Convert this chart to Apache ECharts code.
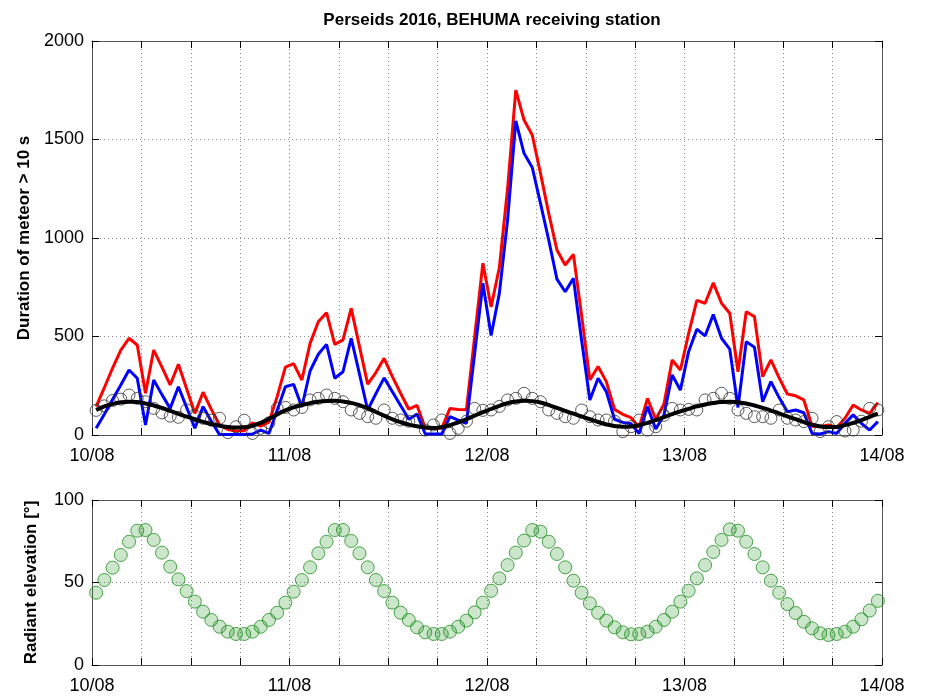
<!DOCTYPE html>
<html>
<head>
<meta charset="utf-8">
<script src="https://cdn.jsdelivr.net/npm/echarts@6/dist/echarts.min.js"></script>
<style>
  html, body { margin: 0; padding: 0; background: #fff; }
  #chart { width: 926px; height: 700px; }
</style>
</head>
<body>
<div id="chart"></div>
<script>
// x tick labels, one per day (hours 0, 24, 48, 72, 96)
const dayLabels = ['10/08', '11/08', '12/08', '13/08', '14/08']

// hourly values, 10/08 00:30 ... 13/08 23:30
const red = [
  144, 240, 340, 431, 491, 457, 212, 431, 345, 254, 359, 235, 110, 217, 130, 51, 28, 20, 22, 62, 45, 65, 195, 345,
  362, 279, 465, 575, 621, 460, 483, 643, 450, 258, 317, 389, 296, 212, 131, 150, 34, 34, 34, 135, 130, 128, 499, 872,
  650, 850, 1250, 1751, 1599, 1523, 1328, 1125, 939, 863, 917, 606, 280, 348, 271, 130, 105, 88, 40, 186, 80, 156, 381, 330,
  515, 683, 669, 772, 669, 618, 321, 626, 601, 296, 381, 290, 208, 199, 178, 45, 42, 51, 38, 85, 152, 127, 110, 164
]
const blue = [
  34, 105, 180, 254, 330, 288, 51, 279, 205, 135, 245, 140, 34, 144, 70, 2, 2, 2, 2, 5, 25, 8, 125, 245,
  257, 142, 325, 410, 460, 288, 321, 491, 310, 127, 210, 290, 220, 150, 80, 106, 5, 5, 5, 93, 75, 59, 415, 770,
  505, 719, 1091, 1595, 1430, 1358, 1176, 990, 791, 727, 795, 480, 178, 288, 220, 80, 64, 57, 8, 144, 30, 100, 305, 228,
  423, 537, 503, 612, 491, 436, 140, 474, 445, 169, 271, 190, 118, 127, 113, 8, 5, 17, 8, 59, 102, 59, 25, 68
]
// hollow black circles
const circles = [
  125, 148, 175, 182, 203, 186, 169, 135, 112, 96, 90, 127, 98, 85, 75, 85, 12, 42, 75, 8, 34, 62, 135, 140,
  127, 140, 178, 186, 203, 186, 169, 127, 110, 93, 85, 127, 85, 76, 70, 75, 25, 51, 76, 8, 34, 70, 135, 125,
  127, 145, 178, 186, 212, 186, 169, 127, 110, 93, 85, 127, 93, 76, 76, 70, 17, 42, 76, 25, 42, 100, 135, 127,
  130, 127, 178, 186, 212, 186, 127, 110, 93, 93, 85, 127, 85, 76, 68, 85, 17, 42, 68, 20, 25, 70, 135, 127
]
// thick black curve
const fit = [
  127, 145, 158, 166, 169, 167, 160, 150, 137, 122, 107, 93, 80, 67, 56, 47, 41, 38, 39, 47, 62, 82, 104, 125,
  140, 152, 162, 169, 173, 174, 170, 163, 152, 136, 117, 98, 80, 65, 53, 44, 38, 36, 40, 50, 64, 80, 98, 116,
  132, 148, 162, 170, 174, 172, 165, 152, 138, 122, 108, 94, 80, 66, 54, 46, 42, 43, 50, 62, 76, 91, 106, 120,
  133, 145, 155, 162, 167, 169, 166, 160, 150, 138, 124, 110, 95, 80, 65, 52, 44, 40, 41, 50, 62, 76, 92, 108
]
// radiant elevation (deg)
const elevation = [
  43.8, 51.5, 59, 66.7, 74.7, 81.4, 81.8, 75.8, 68.1, 59.6, 51.9, 44.8, 38.4, 32.3, 27.3, 23.2, 20.2, 18.8, 18.8, 20.2, 23.2, 27.3, 31.7, 37.8,
  44.4, 51.5, 59.2, 67.7, 74.7, 81.8, 81.8, 75.2, 67.7, 59.2, 51.5, 44.8, 37.8, 31.7, 27.3, 22.8, 19.8, 18.8, 18.8, 20.2, 23.2, 26.9, 31.9, 37.8,
  45, 52.5, 60.6, 68.1, 75.4, 81.8, 80.8, 74.7, 67.3, 59.2, 51.1, 43.8, 37.4, 31.7, 26.9, 22.8, 19.8, 18.6, 18.8, 20.2, 23.2, 27.3, 32.3, 38.4,
  45, 52.5, 60.6, 68.5, 75.8, 82.2, 81.4, 74.7, 67.3, 59.2, 51.1, 43.8, 36.9, 31.5, 26.2, 22.2, 19.2, 18.2, 18.8, 20.2, 23.2, 27.7, 33, 38.9
]

// sample times in hours since 10/08 00:00 (half past each hour)
const hours = red.map((_, i) => i + 0.5)
const pairs = (arr) => arr.map((v, i) => [hours[i], v])

const FONT = 'Liberation Sans'
const AXIS_COLOR = '#555'
const dotted = { show: true, lineStyle: { color: '#8a8a8a', type: [1, 3], width: 1 } }

function xAxisFor(grid, pos, labels) {
  return {
    type: 'value', gridIndex: grid, position: pos,
    min: 0, max: 96, interval: 6,
    axisLine: { show: true, onZero: false, lineStyle: { color: AXIS_COLOR, width: 1 } },
    axisTick: { show: true, inside: true, length: 7, lineStyle: { color: '#000' } },
    axisLabel: {
      show: labels, margin: 12, color: '#000', fontFamily: FONT, fontSize: 18,
      showMinLabel: true, showMaxLabel: true,
      formatter: v => (v % 24 === 0 ? dayLabels[v / 24] : '')
    },
    splitLine: labels ? dotted : { show: false }
  }
}

function yAxisFor(grid, pos, max, step, name) {
  return {
    type: 'value', gridIndex: grid, position: pos,
    min: 0, max: max, interval: step,
    name: name, nameLocation: 'middle', nameGap: 52,
    nameTextStyle: { color: '#000', fontFamily: FONT, fontSize: 17, fontWeight: 'bold' },
    axisLine: { show: true, onZero: false, lineStyle: { color: AXIS_COLOR, width: 1 } },
    axisTick: { show: true, inside: true, length: 7, lineStyle: { color: '#000' } },
    axisLabel: {
      show: pos === 'left', margin: 8, color: '#000', fontFamily: FONT, fontSize: 18,
      formatter: v => String(v)
    },
    splitLine: pos === 'left' ? dotted : { show: false }
  }
}

const chart = echarts.init(document.getElementById('chart'))

chart.setOption({
  animation: false,
  backgroundColor: '#fff',
  title: {
    text: 'Perseids 2016, BEHUMA receiving station',
    left: 487, top: 7, textAlign: 'center',
    textStyle: { fontFamily: FONT, fontSize: 17, fontWeight: 'bold', color: '#000' }
  },
  grid: [
    { left: 92, right: 44, top: 41, height: 394 },
    { left: 92, right: 44, top: 500, height: 165 }
  ],
  xAxis: [
    xAxisFor(0, 'bottom', true),
    xAxisFor(0, 'top', false),
    xAxisFor(1, 'bottom', true),
    xAxisFor(1, 'top', false)
  ],
  yAxis: [
    yAxisFor(0, 'left', 2000, 500, 'Duration of meteor > 10 s'),
    yAxisFor(0, 'right', 2000, 500, ''),
    yAxisFor(1, 'left', 100, 50, 'Radiant elevation [°]'),
    yAxisFor(1, 'right', 100, 50, '')
  ],
  series: [
    {
      type: 'line', xAxisIndex: 0, yAxisIndex: 0, data: pairs(red),
      symbol: 'none', lineStyle: { color: '#ff0000', width: 3 }, z: 2
    },
    {
      type: 'line', xAxisIndex: 0, yAxisIndex: 0, data: pairs(blue),
      symbol: 'none', lineStyle: { color: '#0000ff', width: 3 }, z: 3
    },
    {
      type: 'scatter', xAxisIndex: 0, yAxisIndex: 0, data: pairs(circles),
      symbol: 'circle', symbolSize: 12,
      itemStyle: { color: 'rgba(0,0,0,0)', borderColor: '#333', borderWidth: 1 }, z: 4
    },
    {
      type: 'line', xAxisIndex: 0, yAxisIndex: 0, data: pairs(fit),
      symbol: 'none', smooth: true, lineStyle: { color: '#000', width: 4 }, z: 5
    },
    {
      type: 'scatter', xAxisIndex: 2, yAxisIndex: 2, data: pairs(elevation),
      symbol: 'circle', symbolSize: 13,
      itemStyle: { color: 'rgba(20,140,20,0.27)', borderColor: '#1f8f1f', borderWidth: 1 }
    }
  ]
})
</script>
</body>
</html>
